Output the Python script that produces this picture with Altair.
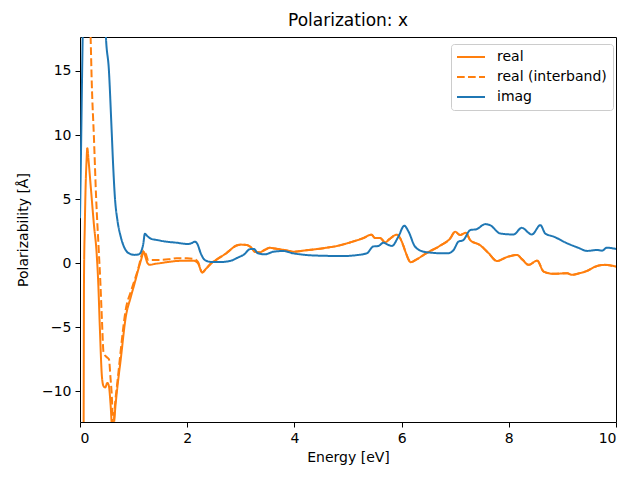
import altair as alt
import pandas as pd

# ---- data ----
real_energy = [0.0, 0.06, 0.068, 0.075, 0.09, 0.105, 0.12, 0.137, 0.16, 0.2, 0.26, 0.31, 0.34, 0.37,
               0.41, 0.44, 0.47, 0.51, 0.54, 0.57, 0.60, 0.63, 0.66, 0.71, 0.76, 0.85, 0.95, 1.02,
               1.1, 1.14, 1.19, 1.22, 1.26, 1.3, 1.4, 1.49, 1.65, 1.8, 2.0, 2.11, 2.2, 2.28, 2.36,
               2.45, 2.54, 2.73, 2.92, 3.0, 3.11, 3.2, 3.26, 3.35, 3.45, 3.54, 3.63, 3.72, 3.85,
               3.98, 4.2, 4.54, 4.8, 5.1, 5.29, 5.44, 5.5, 5.6, 5.69, 5.78, 5.91, 5.97, 6.03, 6.08,
               6.17, 6.28, 6.47, 6.72, 6.9, 7.0, 7.09, 7.2, 7.28, 7.46, 7.62, 7.78, 7.96, 8.15,
               8.25, 8.37, 8.53, 8.65, 8.84, 9.09, 9.18, 9.3, 9.46, 9.59, 9.78, 10.0]
real_value = [-30.0, -30.0, -12.0, -1.0, 3.0, 6.0, 7.8, 8.97, 8.0, 6.0, 3.0, 0.8, -1.5, -5.0,
              -8.9, -9.6, -9.7, -9.34, -9.6, -11.0, -12.8, -12.6, -11.2, -9.2, -7.5, -4.3, -2.6, -1.55,
              -0.3, 0.26, 0.9, 0.5, 0.0, -0.13, -0.05, 0.0, 0.1, 0.17, 0.2, 0.2, 0.0, -0.72, -0.39,
              0.0, 0.26, 0.78, 1.38, 1.45, 1.42, 1.2, 0.9, 0.85, 1.05, 1.2, 1.15, 1.09, 1.0,
              0.9, 1.0, 1.17, 1.35, 1.7, 1.97, 2.23, 1.97, 1.97, 1.63, 1.9, 2.23, 1.97, 1.4, 0.8,
              0.08, 0.3, 0.8, 1.37, 1.9, 2.46, 2.2, 2.37, 1.8, 1.42, 0.8, 0.17, 0.47, 0.65,
              0.3, -0.13, 0.2, -0.65, -0.83, -0.78, -0.91, -0.8, -0.6, -0.31, -0.13, -0.26]

inter_energy = [0.0, 0.1, 0.15, 0.196, 0.22, 0.26, 0.30, 0.35, 0.38, 0.41, 0.44, 0.49, 0.54,
                0.57, 0.59, 0.62, 0.66, 0.71, 0.76, 0.85, 0.95, 1.02, 1.1, 1.14, 1.19, 1.23,
                1.27, 1.4, 1.49, 1.65, 1.8, 2.0, 2.11, 2.2]
inter_value = [40.0, 30.0, 24.0, 18.0, 14.0, 9.8, 5.2, 1.0, -1.5, -4.5, -7.0, -7.3, -7.5,
               -9.0, -10.1, -12.6, -10.7, -8.8, -6.8, -3.7, -2.2, -1.3, -0.2, 0.5, 1.0, 0.7,
               0.26, 0.26, 0.26, 0.3, 0.39, 0.38, 0.35, 0.1]

imag_energy = [0.0, 0.02, 0.04, 0.055, 0.1, 0.3, 0.45, 0.48, 0.54, 0.59, 0.62, 0.65, 0.70, 0.76,
               0.85, 0.95, 1.02, 1.1, 1.14, 1.18, 1.21, 1.26, 1.33, 1.45, 1.58, 1.8, 2.01, 2.1,
               2.14, 2.19, 2.25, 2.33, 2.45, 2.65, 2.82, 2.95, 3.05, 3.18, 3.25, 3.31, 3.45, 3.61,
               3.79, 3.98, 4.2, 4.54, 4.9, 5.16, 5.35, 5.47, 5.57, 5.66, 5.74, 5.82, 5.94, 6.05,
               6.13, 6.25, 6.41, 6.53, 6.72, 6.87, 6.97, 7.06, 7.15, 7.28, 7.40, 7.56, 7.65, 7.84,
               8.09, 8.24, 8.43, 8.59, 8.68, 8.84, 9.09, 9.3, 9.46, 9.65, 9.74, 9.83, 10.0]
imag_value = [3.5, 9.0, 15.0, 19.0, 30.0, 30.0, 22.0, 18.0, 15.0, 10.4, 7.5, 5.2, 3.3, 2.07,
              1.04, 0.7, 0.65, 0.7, 0.9, 1.5, 2.3, 2.1, 1.9, 1.8, 1.7, 1.6, 1.5, 1.6,
              1.68, 1.5, 0.8, 0.25, 0.1, 0.1, 0.2, 0.45, 0.65, 1.1, 1.1, 0.8, 0.69, 0.9,
              0.95, 0.77, 0.65, 0.58, 0.56, 0.63, 0.77, 1.3, 1.35, 1.6, 1.45, 1.35, 2.07, 2.93,
              2.46, 1.3, 0.9, 0.83, 0.78, 0.78, 1.03, 1.68, 1.8, 2.58, 2.66, 3.05, 2.97, 2.32,
              2.24, 2.76, 2.24, 2.97, 2.32, 2.07, 1.55, 1.2, 0.96, 1.03, 0.98, 1.21, 1.11]

series_names = ["real", "real (interband)", "imag"]
series_colors = ["#ff7f0e", "#ff7f0e", "#1f77b4"]
series_dashes = [[1, 0], [7.7, 3.3], [1, 0]]
x_ticks = [0, 2, 4, 6, 8, 10]
y_ticks = [-10, -5, 0, 5, 10, 15]

# interband coincides with the total real part above ~2.3 eV
inter_e = inter_energy + [e for e in real_energy if e > 2.25]
inter_v = inter_value + [v for e, v in zip(real_energy, real_value) if e > 2.25]

df_real = pd.DataFrame({"energy": real_energy, "value": real_value, "series": "real"})
df_inter = pd.DataFrame({"energy": inter_e, "value": inter_v, "series": "real (interband)"})
df_imag = pd.DataFrame({"energy": imag_energy, "value": imag_value, "series": "imag"})

FONT = "DejaVu Sans"

x_enc = alt.X("energy:Q", scale=alt.Scale(domain=[0, 10], nice=False),
              axis=alt.Axis(title="Energy [eV]", values=x_ticks, format="d"))
y_enc = alt.Y("value:Q", scale=alt.Scale(domain=[-12.39, 17.65], nice=False, zero=False),
              axis=alt.Axis(title="Polarizability [Å]", values=y_ticks, format="d"))
color_enc = alt.Color("series:N",
                      scale=alt.Scale(domain=series_names, range=series_colors),
                      legend=alt.Legend(title=None, orient="none", legendX=371, legendY=7))
dash_enc = alt.StrokeDash("series:N",
                          scale=alt.Scale(domain=series_names, range=series_dashes),
                          legend=alt.Legend(title=None, orient="none", legendX=371, legendY=7))


def layer(df):
    return alt.Chart(df).mark_line(clip=True, strokeWidth=2, interpolate="monotone").encode(
        x=x_enc, y=y_enc, color=color_enc, strokeDash=dash_enc, order="energy:Q")


chart = alt.layer(layer(df_real), layer(df_inter), layer(df_imag)).properties(
    width=536, height=385,
    title=alt.TitleParams("Polarization: x", font=FONT, fontSize=17, fontWeight="normal",
                          color="black", offset=7),
    autosize=alt.AutoSizeParams(type="none"),
    padding={"left": 72, "top": 29, "right": 16, "bottom": 50},
).configure_view(
    stroke="black", strokeWidth=1
).configure_axis(
    grid=False, domain=False, tickColor="black", tickSize=5, tickWidth=1,
    labelFont=FONT, labelFontSize=14, labelColor="black", labelPadding=4,
    titleFont=FONT, titleFontSize=14, titleColor="black", titleFontWeight="normal",
).configure_axisX(
    titlePadding=5
).configure_axisY(
    titlePadding=11
).configure_legend(
    symbolType="M-1.4,0H4.2", symbolSize=100, symbolStrokeWidth=2,
    labelFont=FONT, labelFontSize=14, labelColor="black", labelOffset=26,
    padding=6, rowPadding=6, strokeColor="#cccccc", fillColor="white",
    cornerRadius=3,
)

chart.save("out.html", embed_options={"renderer": "svg", "actions": False})
